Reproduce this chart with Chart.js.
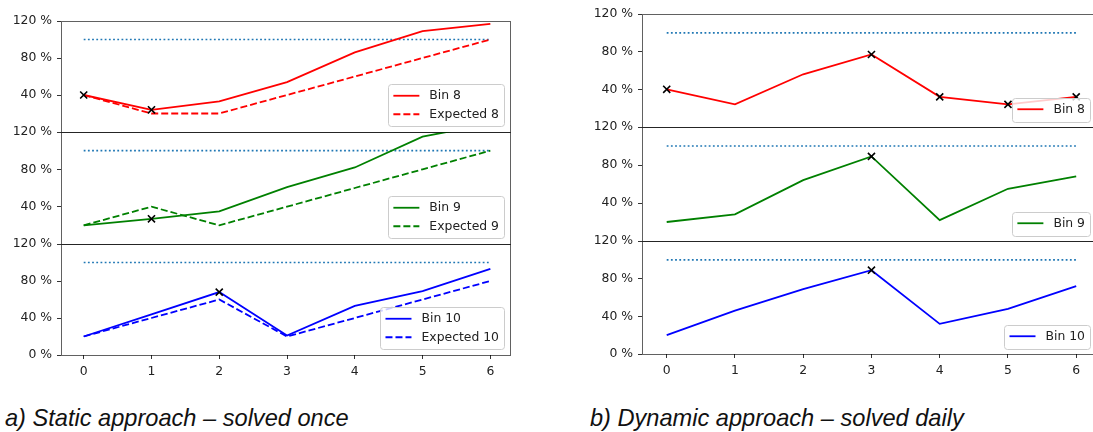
<!DOCTYPE html>
<html><head><meta charset="utf-8">
<script src="https://cdn.jsdelivr.net/npm/chart.js@4.4.1/dist/chart.umd.min.js"></script>
<style>
html,body{margin:0;padding:0;background:#fff;width:1093px;height:432px;overflow:hidden;position:relative}
canvas{position:absolute}
.cap{position:absolute;font-family:"Liberation Sans",Arial,sans-serif;font-style:italic;font-size:23.6px;line-height:23.6px;color:#111;white-space:nowrap}
</style></head><body>
<canvas id="s8"></canvas><canvas id="s9"></canvas><canvas id="s10"></canvas>
<canvas id="d8"></canvas><canvas id="d9"></canvas><canvas id="d10"></canvas>
<div class="cap" style="left:5px;top:407px">a) Static approach – solved once</div>
<div class="cap" style="left:590px;top:407px">b) Dynamic approach – solved daily</div>
<script>
// ---- data ----
const days = [0, 1, 2, 3, 4, 5, 6];
const capacity = [100, 100, 100, 100, 100, 100, 100];
const yTicksUpper = [40, 80, 120];
const yTicksLower = [0, 40, 80, 120];

const staticBin8 = [40, 24, 33, 54, 86, 109, 117];
const staticExp8 = [40, 20, 20, 40, 60, 80, 100];
const staticBin9 = [20, 27, 35, 61, 82, 115, 129];
const staticExp9 = [20, 40, 20, 40, 60, 80, 100];
const staticBin10 = [20, 44, 68, 21, 53, 69, 93];
const staticExp10 = [20, 40, 60, 20, 40, 60, 80];
const staticMarks8 = [0, 1];
const staticMarks9 = [1];
const staticMarks10 = [2];

const dynBin8 = [40, 24, 56, 77, 32, 24, 32];
const dynBin9 = [20, 28, 64, 89, 22, 55, 68];
const dynBin10 = [20, 46, 69, 89, 32, 48, 72];
const dynMarks8 = [0, 3, 4, 5, 6];
const dynMarks9 = [3];
const dynMarks10 = [3];

// ---- rendering ----
const FONT = 'DejaVu Sans';
const FS = 12.4;
const TXT = '#222';
const PAD = 15;

const framePlugin = {
  id: 'frame',
  afterDatasetsDraw(chart) {
    const a = chart.chartArea, ctx = chart.ctx;
    ctx.save();
    ctx.strokeStyle = 'rgba(0,0,0,0.62)';
    ctx.lineWidth = 1;
    const l = Math.round(a.left), t = Math.round(a.top), r = Math.round(a.right), b = Math.round(a.bottom);
    ctx.strokeRect(l + 0.5, t + 0.5, r - l, b - t);
    ctx.restore();
  }
};

const legendPlugin = {
  id: 'boxLegend',
  afterDatasetsDraw(chart) {
    const items = chart.data.datasets.filter(d => d.inLegend);
    if (!items.length) return;
    const ctx = chart.ctx, a = chart.chartArea;
    ctx.save();
    ctx.font = FS + 'px "' + FONT + '"';
    const tw = Math.max(...items.map(d => ctx.measureText(d.label).width));
    const pad = 5, handle = 26, tpad = 10, rowH = 13.5, gap = 5;
    const w = pad * 2 + handle + tpad + tw;
    const h = pad * 2 + items.length * rowH + (items.length - 1) * gap;
    const x = a.right - 6 - w, y = a.bottom - 6 - h;
    ctx.beginPath();
    ctx.roundRect(Math.round(x) + 0.5, Math.round(y) + 0.5, Math.round(w), Math.round(h), 3);
    ctx.fillStyle = 'rgba(255,255,255,0.8)';
    ctx.fill();
    ctx.strokeStyle = '#cccccc';
    ctx.lineWidth = 1;
    ctx.stroke();
    items.forEach((d, i) => {
      const cy = y + pad + rowH / 2 + i * (rowH + gap);
      ctx.beginPath();
      ctx.setLineDash(d.borderDash || []);
      ctx.strokeStyle = d.borderColor;
      ctx.lineWidth = d.borderWidth;
      ctx.moveTo(x + pad, cy);
      ctx.lineTo(x + pad + handle, cy);
      ctx.stroke();
      ctx.setLineDash([]);
      ctx.fillStyle = TXT;
      ctx.textBaseline = 'middle';
      ctx.textAlign = 'left';
      ctx.fillText(d.label, x + pad + handle + tpad, cy + 0.5);
    });
    ctx.restore();
  }
};

function pts(arr) { return days.map((d, i) => ({ x: d, y: arr[i] })); }

function makeChart(id, o) {
  const cv = document.getElementById(id);
  const height = PAD + (o.areaBottom - o.areaTop) + (o.showX ? 30 : PAD);
  const top = o.areaTop - PAD;
  cv.width = o.width; cv.height = height;
  cv.style.left = o.left + 'px'; cv.style.top = top + 'px';
  cv.style.width = o.width + 'px'; cv.style.height = height + 'px';
  const datasets = [
    { label: 'capacity', data: pts(capacity), borderColor: '#1f77b4', borderWidth: 1.6,
      borderDash: [1.8, 2.4], pointRadius: 0, order: 4 },
    { label: o.binLabel, data: pts(o.bin), borderColor: o.color, borderWidth: 1.8,
      pointRadius: 0, order: 2, inLegend: true }
  ];
  if (o.exp) {
    datasets.push({ label: o.expLabel, data: pts(o.exp), borderColor: o.color, borderWidth: 1.8,
      borderDash: [7, 3], pointRadius: 0, order: 3, inLegend: true });
  }
  datasets.push({ label: 'marks', data: o.marks.map(i => ({ x: days[i], y: o.bin[i] })),
    showLine: false, pointStyle: 'crossRot', pointRadius: 5, pointBorderColor: '#000',
    pointBorderWidth: 1.6, borderColor: '#000', order: 1 });

  const tickFont = { family: FONT, size: FS };
  return new Chart(cv, {
    type: 'line',
    data: { datasets },
    options: {
      responsive: false, animation: false, devicePixelRatio: 1,
      layout: { padding: { top: PAD, bottom: o.showX ? 0 : PAD, right: o.left + o.width - o.areaRight, left: 0 } },
      plugins: { legend: { display: false }, tooltip: { enabled: false } },
      elements: { line: { tension: 0, fill: false } },
      scales: {
        x: {
          type: 'linear', min: o.xMin, max: o.xMax, display: o.showX,
          afterBuildTicks: s => { s.ticks = days.map(v => ({ value: v })); },
          afterFit: s => { s.height = o.showX ? 30 : 0; },
          ticks: { callback: v => String(v), autoSkip: false, maxRotation: 0, padding: 5, font: tickFont, color: TXT },
          grid: { drawOnChartArea: false, drawTicks: true, tickLength: 4, tickColor: '#333', lineWidth: 1 },
          border: { display: false }
        },
        y: {
          min: 0, max: 120, position: 'left',
          afterBuildTicks: s => { s.ticks = o.yTicks.map(v => ({ value: v })); },
          afterFit: s => { s.width = o.areaLeft - o.left; },
          ticks: { callback: v => v + ' %', autoSkip: false, padding: 5, font: tickFont, color: TXT },
          grid: { drawOnChartArea: false, drawTicks: true, tickLength: 4, tickColor: '#333', lineWidth: 1 },
          border: { display: false }
        }
      }
    },
    plugins: [framePlugin, legendPlugin]
  });
}

// Static panel (a)
const SX = { xMin: -0.335, xMax: 6.29, left: 0, width: 521, areaLeft: 61, areaRight: 510 };
makeChart('s8', Object.assign({}, SX, { areaTop: 21, areaBottom: 132, showX: false, yTicks: yTicksUpper,
  bin: staticBin8, exp: staticExp8, binLabel: 'Bin 8', expLabel: 'Expected 8', color: '#ff0000', marks: staticMarks8 }));
makeChart('s9', Object.assign({}, SX, { areaTop: 132, areaBottom: 244, showX: false, yTicks: yTicksUpper,
  bin: staticBin9, exp: staticExp9, binLabel: 'Bin 9', expLabel: 'Expected 9', color: '#008000', marks: staticMarks9 }));
makeChart('s10', Object.assign({}, SX, { areaTop: 244, areaBottom: 355, showX: true, yTicks: yTicksLower,
  bin: staticBin10, exp: staticExp10, binLabel: 'Bin 10', expLabel: 'Expected 10', color: '#0000ff', marks: staticMarks10 }));

// Dynamic panel (b)
const DX = { xMin: -0.362, xMax: 6.29, left: 570, width: 540, areaLeft: 642, areaRight: 1096 };
makeChart('d8', Object.assign({}, DX, { areaTop: 14, areaBottom: 127, showX: false, yTicks: yTicksUpper,
  bin: dynBin8, binLabel: 'Bin 8', color: '#ff0000', marks: dynMarks8 }));
makeChart('d9', Object.assign({}, DX, { areaTop: 127, areaBottom: 241, showX: false, yTicks: yTicksUpper,
  bin: dynBin9, binLabel: 'Bin 9', color: '#008000', marks: dynMarks9 }));
makeChart('d10', Object.assign({}, DX, { areaTop: 241, areaBottom: 354, showX: true, yTicks: yTicksLower,
  bin: dynBin10, binLabel: 'Bin 10', color: '#0000ff', marks: dynMarks10 }));
</script>
</body></html>
